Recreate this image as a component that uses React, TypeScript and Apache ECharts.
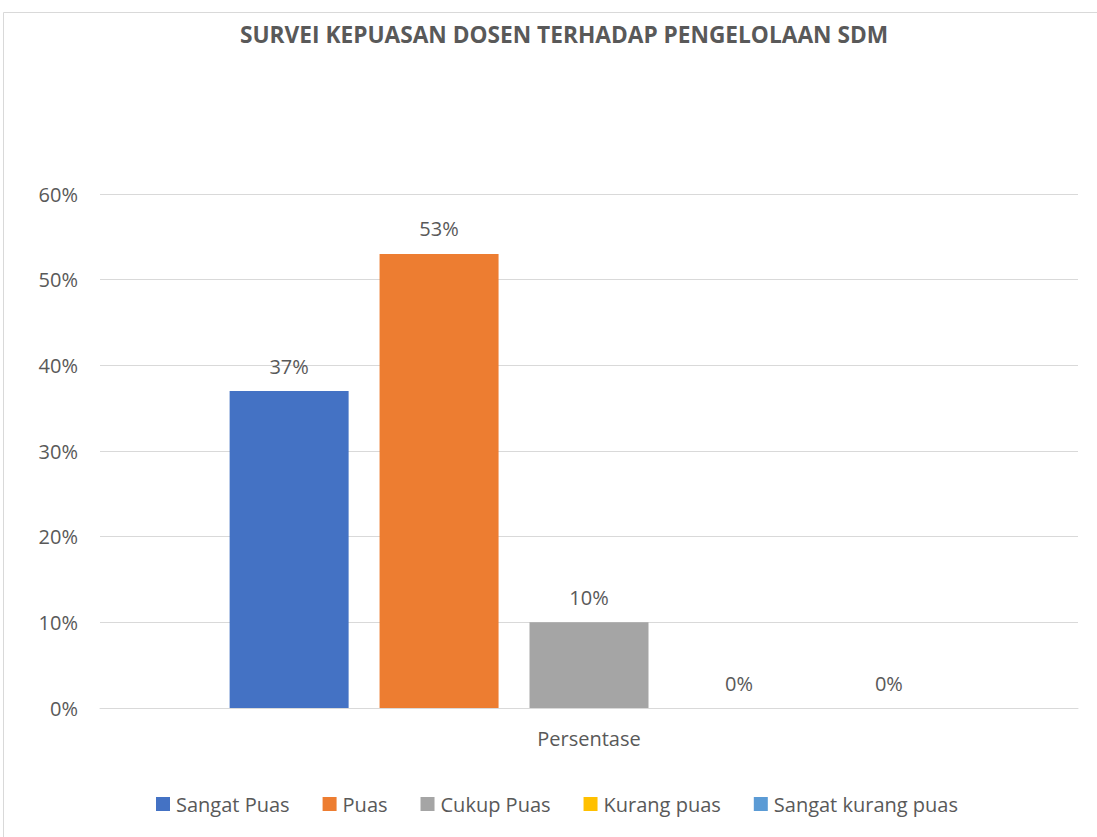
import React, { useEffect, useRef } from "react";
import * as echarts from "echarts";

const titleText = "SURVEI KEPUASAN DOSEN TERHADAP PENGELOLAAN SDM";
const categories = ["Persentase"];
const seriesNames = ["Sangat Puas", "Puas", "Cukup Puas", "Kurang puas", "Sangat kurang puas"];
const seriesValues = [37, 53, 10, 0, 0];
const seriesColors = ["#4472C4", "#ED7D31", "#A5A5A5", "#FFC000", "#5B9BD5"];
const yTicks = { min: 0, max: 60, interval: 10 };

const FONT = "'Open Sans', 'Noto Sans', sans-serif";
const TEXT = "#595959";
const FS = 20;

export default function App() {
  const ref = useRef<HTMLDivElement>(null);
  useEffect(() => {
    if (!ref.current) return;
    const chart = echarts.init(ref.current, undefined, { renderer: "svg" });
    chart.setOption({
      animation: false,
      backgroundColor: "#ffffff",
      textStyle: { fontFamily: FONT, color: TEXT },
      graphic: [
        {
          type: "rect",
          shape: { x: 3.5, y: 12.5, width: 1200, height: 1000 },
          style: { fill: "none", stroke: "#D9D9D9", lineWidth: 1 },
          silent: true,
          z: -1,
        },
      ],
      title: {
        text: titleText,
        left: 559,
        textAlign: "center",
        top: 18,
        textStyle: { fontFamily: FONT, fontWeight: "bold", fontSize: 22.7, color: TEXT },
      },
      legend: {
        bottom: 18,
        left: 151,
        itemWidth: 14,
        itemHeight: 14,
        itemGap: 33,
        icon: "rect",
        textStyle: { fontFamily: FONT, fontSize: FS, color: TEXT, padding: [0, 0, 0, 1] },
        data: seriesNames,
      },
      grid: { left: 100, right: 19, top: 194, bottom: 129, containLabel: false },
      xAxis: {
        type: "category",
        data: categories,
        axisLine: { lineStyle: { color: "#D9D9D9" } },
        axisTick: { show: false },
        axisLabel: { fontFamily: FONT, fontSize: FS, color: TEXT, margin: 20 },
      },
      yAxis: {
        type: "value",
        min: yTicks.min,
        max: yTicks.max,
        interval: yTicks.interval,
        axisLine: { show: false },
        axisTick: { show: false },
        splitLine: { lineStyle: { color: "#D9D9D9" } },
        axisLabel: { fontFamily: FONT, fontSize: FS, color: TEXT, margin: 22, formatter: "{value}%" },
      },
      series: seriesNames.map((name, i) => ({
        name,
        type: "bar",
        data: [seriesValues[i]],
        barWidth: 119,
        barGap: "26%",
        itemStyle: { color: seriesColors[i] },
        label: {
          show: true,
          position: "top",
          distance: 15,
          formatter: "{c}%",
          fontFamily: FONT,
          fontSize: FS,
          color: TEXT,
        },
      })),
    });
    return () => chart.dispose();
  }, []);
  return (
    <div
      ref={ref}
      style={{ position: "fixed", left: 0, top: 0, width: 1097, height: 837 }}
    />
  );
}
